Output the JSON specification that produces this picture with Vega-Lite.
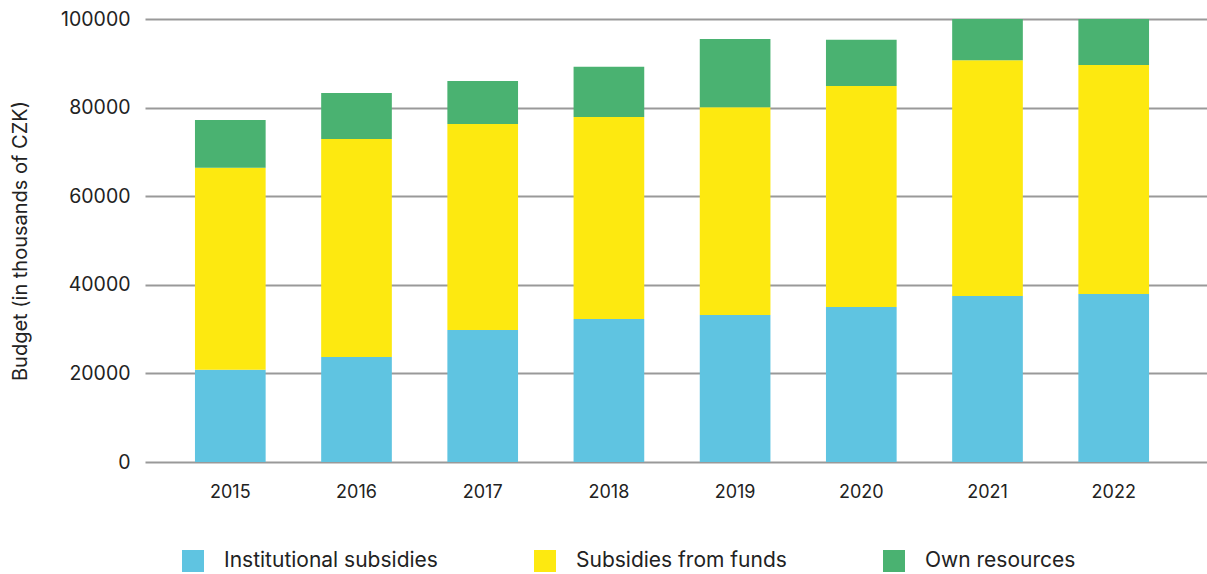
{
  "$schema": "https://vega.github.io/schema/vega-lite/v6.json",
  "autosize": {"type": "none"},
  "padding": {"left": 145, "top": 19, "right": 0, "bottom": 112},
  "width": 1062,
  "height": 443,
  "background": "white",
  "data": {"values": [
    {"year": "2015", "source": "Institutional subsidies", "k": 1, "value": 20800},
    {"year": "2015", "source": "Subsidies from funds", "k": 2, "value": 45600},
    {"year": "2015", "source": "Own resources", "k": 3, "value": 10800},
    {"year": "2016", "source": "Institutional subsidies", "k": 1, "value": 23700},
    {"year": "2016", "source": "Subsidies from funds", "k": 2, "value": 49200},
    {"year": "2016", "source": "Own resources", "k": 3, "value": 10400},
    {"year": "2017", "source": "Institutional subsidies", "k": 1, "value": 29800},
    {"year": "2017", "source": "Subsidies from funds", "k": 2, "value": 46500},
    {"year": "2017", "source": "Own resources", "k": 3, "value": 9700},
    {"year": "2018", "source": "Institutional subsidies", "k": 1, "value": 32300},
    {"year": "2018", "source": "Subsidies from funds", "k": 2, "value": 45600},
    {"year": "2018", "source": "Own resources", "k": 3, "value": 11300},
    {"year": "2019", "source": "Institutional subsidies", "k": 1, "value": 33200},
    {"year": "2019", "source": "Subsidies from funds", "k": 2, "value": 46900},
    {"year": "2019", "source": "Own resources", "k": 3, "value": 15400},
    {"year": "2020", "source": "Institutional subsidies", "k": 1, "value": 35000},
    {"year": "2020", "source": "Subsidies from funds", "k": 2, "value": 49900},
    {"year": "2020", "source": "Own resources", "k": 3, "value": 10400},
    {"year": "2021", "source": "Institutional subsidies", "k": 1, "value": 37500},
    {"year": "2021", "source": "Subsidies from funds", "k": 2, "value": 53200},
    {"year": "2021", "source": "Own resources", "k": 3, "value": 9300},
    {"year": "2022", "source": "Institutional subsidies", "k": 1, "value": 37900},
    {"year": "2022", "source": "Subsidies from funds", "k": 2, "value": 51700},
    {"year": "2022", "source": "Own resources", "k": 3, "value": 10400}
  ]},
  "config": {
    "font": "Inter",
    "view": {"stroke": null},
    "axis": {"labelFont": "Inter", "titleFont": "Inter", "labelColor": "#222", "titleColor": "#222"},
    "legend": {"labelFont": "Inter"}
  },
  "mark": {"type": "bar", "clip": true},
  "encoding": {
    "x": {
      "field": "year", "type": "nominal",
      "scale": {"paddingInner": 0.44, "paddingOuter": 0.4276, "align": 0.463},
      "axis": {"title": null, "labelAngle": 0, "domain": false, "ticks": false, "labelFontSize": 18, "labelPadding": 21}
    },
    "y": {
      "field": "value", "type": "quantitative", "stack": "zero",
      "scale": {"domain": [0, 100000], "nice": false},
      "axis": {
        "title": "Budget (in thousands of CZK)", "titleFontSize": 20, "titleFontWeight": "normal", "titlePadding": 30,
        "values": [0, 20000, 40000, 60000, 80000, 100000], "format": "d",
        "labelFontSize": 19.5, "labelPadding": 15, "domain": false, "ticks": false,
        "gridColor": "#999", "gridWidth": 2
      }
    },
    "color": {
      "field": "source", "type": "nominal",
      "scale": {
        "domain": ["Institutional subsidies", "Subsidies from funds", "Own resources"],
        "range": ["#5FC4E1", "#FDE910", "#4AB271"]
      },
      "legend": {
        "title": null, "orient": "none", "legendX": 37, "legendY": 531, "direction": "horizontal", "columns": 3,
        "symbolType": "square", "symbolSize": 484, "symbolStrokeWidth": 0, "symbolOpacity": 1,
        "labelFontSize": 21, "labelColor": "#222", "labelOffset": 20, "labelLimit": 400,
        "gridAlign": "none", "columnPadding": 96
      }
    },
    "order": {"field": "k", "type": "quantitative"}
  }
}
